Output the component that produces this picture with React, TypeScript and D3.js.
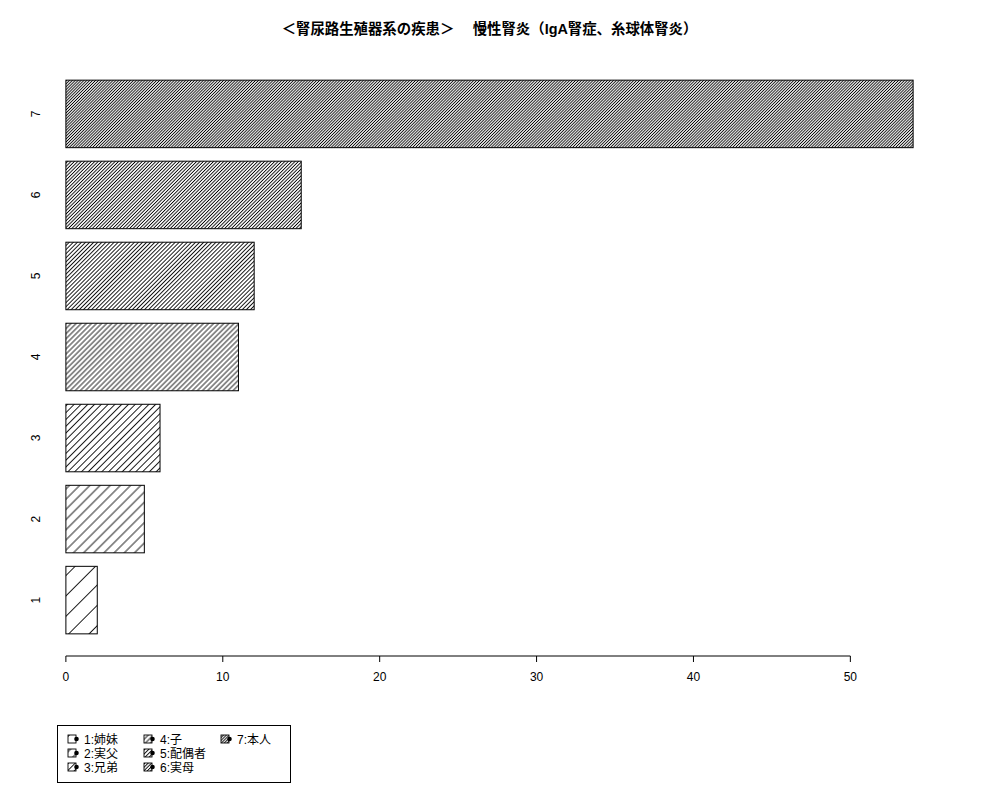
import React, { useEffect, useRef } from 'react';
import * as d3 from 'd3';

const title = '＜腎尿路生殖器系の疾患＞　 慢性腎炎（IgA腎症、糸球体腎炎）';
const categories = ['1', '2', '3', '4', '5', '6', '7'];
const values = [2, 5, 6, 11, 12, 15, 54];
const densities = [5, 10, 15, 20, 25, 30, 35];
const legendLabels = ['1:姉妹', '2:実父', '3:兄弟', '4:子', '5:配偶者', '6:実母', '7:本人'];
const xTicks = [0, 10, 20, 30, 40, 50];

const FONT = '"Liberation Sans", Arial, "Noto Sans CJK JP", sans-serif';

const App: React.FC = () => {
  const svgRef = useRef<SVGSVGElement>(null);

  useEffect(() => {
    if (!svgRef.current) return;
    const svg = d3.select(svgRef.current);
    svg.selectAll('*').remove();

    const plot = { left: 32, right: 947, top: 58, bottom: 656 };
    const xMax = d3.max(values) as number;
    const x = d3.scaleLinear()
      .domain([-xMax * 0.04, xMax * 1.04])
      .range([plot.left, plot.right]);

    // bars sit at 0.2 + 1.2*i with width 1 (R barplot layout)
    const yLo = 0.2, yHi = 1.2 * categories.length;
    const pad = (yHi - yLo) * 0.04;
    const y = d3.scaleLinear()
      .domain([yLo - pad, yHi + pad])
      .range([plot.bottom, plot.top]);

    // hatch patterns, density = lines per inch at 72dpi
    const defs = svg.append('defs');
    densities.forEach((d, i) => {
      const s = 72 / d;
      const p = defs.append('pattern')
        .attr('id', `hatch${i}`)
        .attr('patternUnits', 'userSpaceOnUse')
        .attr('width', 20)
        .attr('height', s)
        .attr('patternTransform', 'rotate(-45)');
      p.append('rect').attr('width', 20).attr('height', s).attr('fill', 'white');
      p.append('line')
        .attr('x1', 0).attr('x2', 20)
        .attr('y1', s / 2).attr('y2', s / 2)
        .attr('stroke', '#000')
        .attr('stroke-width', 0.9);
    });

    // title
    svg.append('text')
      .attr('x', (plot.left + plot.right) / 2)
      .attr('y', 34)
      .attr('text-anchor', 'middle')
      .attr('font-family', FONT)
      .attr('font-weight', 'bold')
      .attr('font-size', 14.4)
      .style('white-space', 'pre')
      .text(title);

    // bars
    svg.selectAll('.bar')
      .data(values)
      .enter().append('rect')
      .attr('class', 'bar')
      .attr('x', x(0))
      .attr('width', d => x(d) - x(0))
      .attr('y', (_, i) => y(1.2 + 1.2 * i))
      .attr('height', (_, i) => y(0.2 + 1.2 * i) - y(1.2 + 1.2 * i))
      .attr('fill', (_, i) => `url(#hatch${i})`)
      .attr('stroke', '#000')
      .attr('stroke-width', 1);

    // category labels (rotated)
    svg.selectAll('.cat')
      .data(categories)
      .enter().append('text')
      .attr('class', 'cat')
      .attr('transform', (_, i) => `translate(40,${y(0.7 + 1.2 * i)}) rotate(-90)`)
      .attr('text-anchor', 'middle')
      .attr('font-family', FONT)
      .attr('font-size', 12)
      .text(d => d);

    // x axis
    const axis = svg.append('g');
    axis.append('line')
      .attr('x1', x(0)).attr('x2', x(50))
      .attr('y1', plot.bottom).attr('y2', plot.bottom)
      .attr('stroke', '#000');
    const tick = axis.selectAll('.tick')
      .data(xTicks)
      .enter().append('g')
      .attr('transform', d => `translate(${x(d)},${plot.bottom})`);
    tick.append('line').attr('y1', 0).attr('y2', 6).attr('stroke', '#000');
    tick.append('text')
      .attr('y', 25)
      .attr('text-anchor', 'middle')
      .attr('font-family', FONT)
      .attr('font-size', 12)
      .text(d => d);

    // legend
    const lg = svg.append('g');
    lg.append('rect')
      .attr('x', 57.5).attr('y', 725.5)
      .attr('width', 233).attr('height', 57)
      .attr('fill', 'white')
      .attr('stroke', '#000');
    const colX = [68, 144, 221];
    const rowY = [739, 753, 767];
    legendLabels.forEach((label, i) => {
      const cx = colX[Math.floor(i / 3)];
      const cy = rowY[i % 3];
      lg.append('rect')
        .attr('x', cx).attr('y', cy - 4)
        .attr('width', 8).attr('height', 8)
        .attr('fill', `url(#hatch${i})`)
        .attr('stroke', '#000')
        .attr('stroke-width', 0.9);
      lg.append('circle')
        .attr('cx', cx + 8.5).attr('cy', cy)
        .attr('r', 2.3)
        .attr('fill', '#000');
      lg.append('text')
        .attr('x', cx + 16).attr('y', cy + 4.5)
        .attr('font-family', FONT)
        .attr('font-size', 12)
        .text(label);
    });
  }, []);

  return (
    <svg
      ref={svgRef}
      width={1000}
      height={800}
      style={{ position: 'absolute', left: 0, top: 0, background: 'white' }}
    />
  );
};

export default App;
